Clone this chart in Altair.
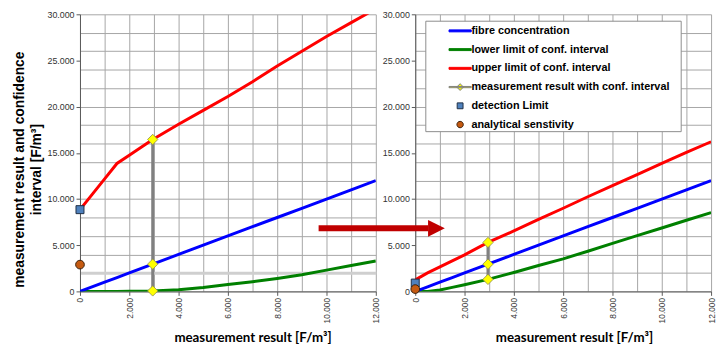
import altair as alt
import pandas as pd

# ---------------- data ----------------
SERIES = [
    "fibre concentration",
    "lower limit of conf. interval",
    "upper limit of conf. interval",
    "measurement result with conf. interval",
    "detection Limit",
    "analytical senstivity",
]
FILL_COLORS = ["#0000FF", "#008000", "#FF0000", "#FFFF00", "#4F81BD", "#C55A11"]
STROKE_COLORS = ["#0000FF", "#008000", "#FF0000", "#808080", "#1F2F45", "#3A1F0A"]
SYMBOL_PATHS = [
    "M-1.25,-0.11H1.25V0.11H-1.25Z",
    "M-1.25,-0.11H1.25V0.11H-1.25Z",
    "M-1.25,-0.11H1.25V0.11H-1.25Z",
    "M-1.25,-0.07H1.25V0.07H-1.25ZM-0.38,0L0,-0.38L0.38,0L0,0.38Z",
    "M-0.33,-0.33H0.33V0.33H-0.33Z",
    "M-0.36,0A0.36,0.36,0,1,1,0.36,0A0.36,0.36,0,1,1,-0.36,0Z",
]

# left panel
L_X = [0, 1000, 1500, 2000, 2950, 4000, 5000, 6000, 7000, 8000, 9000, 10000, 11000, 12000]
L_FIBRE = [0, 1000, 1500, 2000, 2950, 4000, 5000, 6000, 7000, 8000, 9000, 10000, 11000, 12000]
L_LOWER = [0, 0, 0, 10, 50, 180, 420, 740, 1050, 1400, 1800, 2300, 2800, 3300]
L_UPPER = [8850, 12180, 13850, 14750, 16450, 18100, 19600, 21100, 22700, 24400, 26000, 27600, 29100, 30600]
L_MEAS_X = [2950, 2950, 2950]
L_MEAS_Y = [16450, 2950, 50]
L_DETECTION = [0, 8850]
L_SENSITIVITY = [0, 2900]

# right panel
R_X = [0, 500, 1000, 1500, 2000, 2950, 4000, 5000, 6000, 7000, 8000, 9000, 10000, 11000, 12000]
R_FIBRE = [0, 500, 1000, 1500, 2000, 2950, 4000, 5000, 6000, 7000, 8000, 9000, 10000, 11000, 12000]
R_LOWER = [0, 0, 150, 430, 720, 1300, 2050, 2800, 3520, 4350, 5200, 6030, 6860, 7700, 8530]
R_UPPER = [1250, 2000, 2650, 3300, 3950, 5300, 6550, 7800, 9000, 10250, 11450, 12650, 13850, 15050, 16200]
R_MEAS_X = [2950, 2950, 2950]
R_MEAS_Y = [5300, 2950, 1300]
R_DETECTION = [0, 900]
R_SENSITIVITY = [0, 250]

# axis tick values
X_TICKS = list(range(0, 12001, 1000))
Y_TICKS = sorted(set(range(0, 30001, 2000)) | set(range(0, 30001, 5000)))

X_TITLE = "measurement result [F/m³]"
Y_TITLE = ["measurement result and confidence", "interval [F/m³]"]

FONT = "Liberation Sans"

# ---------------- helpers ----------------
xs = alt.Scale(domain=[0, 12000], nice=False, zero=False)
ys = alt.Scale(domain=[0, 30000], nice=False)
fill_scale = alt.Scale(domain=SERIES, range=FILL_COLORS)
stroke_scale = alt.Scale(domain=SERIES, range=STROKE_COLORS)
shape_scale = alt.Scale(domain=SERIES, range=SYMBOL_PATHS)


def x_axis(title_x):
    return alt.Axis(
        values=X_TICKS, title=X_TITLE, titleFont="Lato", titleFontSize=13.5,
        titleFontWeight="bold", titleColor="black", titlePadding=8, titleX=title_x,
        labelAngle=270, labelFont=FONT, labelFontSize=8.5, labelColor="#333333",
        labelPadding=2, labelOverlap=False,
        labelExpr="datum.value % 2000 === 0 ? replace(format(datum.value, ','), ',', '.') : ''",
        tickOpacity={"condition": {"test": "datum.value % 2000 === 0", "value": 1}, "value": 0},
        tickSize=4, tickColor="#595959", domainColor="#595959",
        gridColor="#A6A6A6", gridWidth=1,
    )


def y_axis(left):
    kw = dict(
        values=Y_TICKS, labelFont=FONT, labelFontSize=9, labelColor="#333333",
        labelPadding=2, labelOverlap=False,
        labelExpr="datum.value % 5000 === 0 ? replace(format(datum.value, ','), ',', '.') : ''",
        tickOpacity={"condition": {"test": "datum.value % 5000 === 0", "value": 1}, "value": 0},
        gridOpacity={"condition": {"test": "datum.value % 2000 === 0", "value": 1}, "value": 0},
        tickSize=4, tickColor="#595959", domainColor="#595959",
    )
    if left:
        kw.update(
            title=Y_TITLE, titleFont=FONT, titleFontSize=14, titleFontWeight="bold",
            titleColor="black", titleLineHeight=18, titlePadding=3, titleY=157,
            gridColor={"condition": {"test": "datum.value === 2000", "value": "#CFCFCF"}, "value": "#A6A6A6"},
            gridWidth={"condition": {"test": "datum.value === 2000", "value": 3}, "value": 1},
        )
    else:
        kw.update(title=None, gridColor="#A6A6A6", gridWidth=1)
    return alt.Axis(**kw)


def panel(xv, fibre, lower, upper, meas_x, meas_y, detection, sensitivity, left):
    xa = x_axis(175 if left else 161)
    ya = y_axis(left)
    X = alt.X("x:Q", scale=xs, axis=xa)
    Y = alt.Y("y:Q", scale=ys, axis=ya)

    layers = []
    for i, vals in enumerate([lower, fibre, upper]):
        color = FILL_COLORS[[1, 0, 2][i]]
        df = pd.DataFrame({"x": xv, "y": vals})
        layers.append(
            alt.Chart(df).mark_line(strokeWidth=3, clip=True, color=color).encode(x=X, y=Y)
        )

    mdf = pd.DataFrame({"x": [meas_x[0]], "lo": [min(meas_y)], "hi": [max(meas_y)]})
    layers.append(alt.Chart(mdf).mark_rule(color="#808080", strokeWidth=3).encode(
        x=alt.X("x:Q", scale=xs, axis=xa),
        y=alt.Y("lo:Q", scale=ys, axis=ya),
        y2="hi:Q",
    ))

    layers.append(alt.Chart(pd.DataFrame({"x": meas_x, "y": meas_y})).mark_point(
        shape="diamond", filled=True, fill="#FFFF00", stroke="#8C8C50",
        strokeWidth=0.8, size=110, opacity=1,
    ).encode(x=X, y=Y))

    mk = pd.DataFrame({
        "series": [SERIES[4], SERIES[5]],
        "x": [detection[0], sensitivity[0]],
        "y": [detection[1], sensitivity[1]],
    })
    one = pd.DataFrame({"a": [0]})
    if left:
        legend = None
    else:
        # legend frame
        layers.append(alt.Chart(one).mark_rect(
            fill="white", stroke="#8C8C8C", strokeWidth=1
        ).encode(x=alt.value(10.7), x2=alt.value(269.7), y=alt.value(7), y2=alt.value(119)))
        legend = alt.Legend(
            orient="none", legendX=36, legendY=7.3, title=None, padding=0,
            symbolSize=324, symbolStrokeWidth=1, symbolOffset=0,
            labelFont=FONT, labelFontWeight="bold", labelFontSize=11,
            labelColor="black", labelOffset=2, labelLimit=400, rowPadding=4,
        )
    layers.append(alt.Chart(mk).mark_point(filled=True, size=600, strokeWidth=1, opacity=1).encode(
        x=X, y=Y,
        fill=alt.Fill("series:N", scale=fill_scale, legend=legend),
        stroke=alt.Stroke("series:N", scale=stroke_scale, legend=legend),
        shape=alt.Shape("series:N", scale=shape_scale, legend=legend),
    ))

    if not left:
        layers.append(alt.Chart(one).mark_rule(color="#C00000", strokeWidth=6).encode(
            x=alt.value(-98), x2=alt.value(13), y=alt.value(217)
        ))
        layers.append(alt.Chart(one).mark_point(
            shape="M-1,-1L1,0L-1,1Z", filled=True, color="#C00000", size=289, opacity=1
        ).encode(x=alt.value(21.5), y=alt.value(217)))

    return alt.layer(*layers).properties(width=300, height=281)


left = panel(L_X, L_FIBRE, L_LOWER, L_UPPER, L_MEAS_X, L_MEAS_Y, L_DETECTION, L_SENSITIVITY, True)
right = panel(R_X, R_FIBRE, R_LOWER, R_UPPER, R_MEAS_X, R_MEAS_Y, R_DETECTION, R_SENSITIVITY, False)

chart = alt.hconcat(left, right, spacing=40, bounds="flush").resolve_scale(
    fill="independent", stroke="independent", shape="independent"
).properties(
    padding={"left": 4, "top": 0, "right": 0, "bottom": 0}
).configure_view(strokeWidth=0)

chart.save("out.html", embed_options={"renderer": "svg", "actions": False})
